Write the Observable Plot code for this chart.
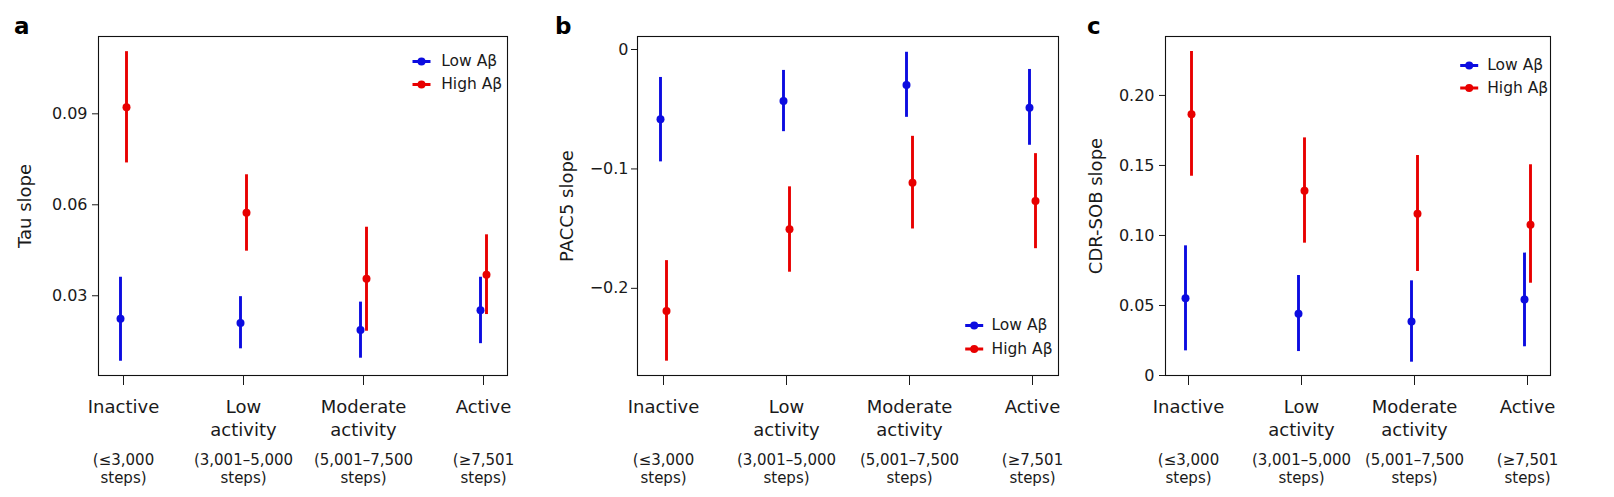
<!DOCTYPE html>
<html><head><meta charset="utf-8">
<script src="https://cdn.jsdelivr.net/npm/d3@7"></script>
<script src="https://cdn.jsdelivr.net/npm/@observablehq/plot@0.6"></script>
<style>
body{margin:0;background:#fff;font-family:"DejaVu Sans",sans-serif;color:#1a1a1a;}
#wrap{position:relative;width:1614px;height:497px;overflow:hidden;}
.panel{position:absolute;top:0;}
.tag{position:absolute;font-weight:bold;font-size:23px;line-height:23px;color:#000;font-family:"DejaVu Sans",sans-serif;}
</style></head><body><div id="wrap"></div>
<script>
const categories = ["Inactive","Low activity","Moderate activity","Active"];
const categoryLabels = ["Inactive","Low\nactivity","Moderate\nactivity","Active"];
const stepLabels = ["(≤3,000\nsteps)","(3,001–5,000\nsteps)","(5,001–7,500\nsteps)","(≥7,501\nsteps)"];
const groups = ["Low Aβ","High Aβ"];
const groupColors = ["#0c0ce0","#e80000"];
// each entry: [estimate, lower CI, upper CI]
const tauLow  = [[0.0224,0.0084,0.0361],[0.0210,0.0125,0.0297],[0.0187,0.0094,0.0279],[0.0252,0.0142,0.0361]];
const tauHigh = [[0.0922,0.0738,0.1105],[0.0574,0.0447,0.0699],[0.0356,0.0183,0.0526],[0.0369,0.0238,0.0501]];
const paccLow  = [[-0.0585,-0.0941,-0.0234],[-0.0432,-0.0688,-0.0175],[-0.0298,-0.0568,-0.0023],[-0.0488,-0.0802,-0.0167]];
const paccHigh = [[-0.2190,-0.2610,-0.1768],[-0.1506,-0.1865,-0.1150],[-0.1116,-0.1503,-0.0727],[-0.1269,-0.1668,-0.0872]];
const cdrLow  = [[0.0552,0.0176,0.0926],[0.0441,0.0171,0.0714],[0.0386,0.0095,0.0676],[0.0543,0.0205,0.0874]];
const cdrHigh = [[0.1866,0.1423,0.2314],[0.1319,0.0945,0.1697],[0.1155,0.0743,0.1571],[0.1076,0.0659,0.1505]];
const tauTicks = [0.03,0.06,0.09];
const paccTicks = [0,-0.1,-0.2];
const cdrTicks = [0,0.05,0.10,0.15,0.20];

const wrap = document.getElementById("wrap");
const FONT = '"DejaVu Sans", sans-serif';
const lineSymbol = {draw(ctx){ ctx.moveTo(-9,0); ctx.lineTo(9,0); }};

function rows(arr){ return arr.map((d,i)=>({cat:categories[i], est:d[0], lo:d[1], hi:d[2]})); }

function legendMarks(lg){
  const m = [];
  groups.forEach((g,i)=>{
    const dy = lg.dy + i*lg.step;
    m.push(Plot.dot([g],{frameAnchor:"top-left", dx:lg.mx, dy, symbol:lineSymbol, stroke:groupColors[i], strokeWidth:3, fill:"none"}));
    m.push(Plot.dot([g],{frameAnchor:"top-left", dx:lg.mx, dy, r:4, fill:groupColors[i], stroke:"none"}));
    m.push(Plot.text([g],{text:d=>d, frameAnchor:"top-left", dx:lg.tx, dy, textAnchor:"start", lineAnchor:"middle", fontSize:15.5, fill:"#1a1a1a"}));
  });
  return m;
}

function panel(o){
  const marks = [];
  [o.low, o.high].forEach((arr,g)=>{
    const data = rows(arr);
    const dx = g===0 ? -3 : 3;
    marks.push(Plot.ruleX(data,{x:"cat", y1:"lo", y2:"hi", stroke:groupColors[g], strokeWidth:2.9, dx}));
    marks.push(Plot.dot(data,{x:"cat", y:"est", r:4, fill:groupColors[g], stroke:"none", dx}));
  });
  const p = Plot.plot({
    width:o.width, height:497,
    marginLeft:o.ml, marginRight:o.mr, marginTop:36, marginBottom:122,
    style:{fontFamily:FONT, fontSize:"16px", color:"#1a1a1a", background:"transparent", overflow:"visible"},
    x:{type:"point", domain:categories, padding:0.2},
    y:{domain:o.yDomain},
    marks:[
      Plot.frame({stroke:"#111", strokeWidth:1.1}),
      Plot.axisY({ticks:o.ticks, tickFormat:o.fmt, tickSize:6, tickPadding:o.tp, fontSize:16, label:null}),
      Plot.axisX({tickSize:10, tickPadding:10, tickFormat:d=>categoryLabels[categories.indexOf(d)], fontSize:18, lineHeight:1.33, label:null}),
      Plot.axisX({tickSize:0, tickPadding:76, tickFormat:d=>stepLabels[categories.indexOf(d)], fontSize:15, lineHeight:1.22, label:null}),
      Plot.text([o.yLabel],{text:d=>d, frameAnchor:"left", rotate:-90, dx:o.lx, textAnchor:"middle", lineAnchor:"middle", fontSize:18, fill:"#1a1a1a"}),
      ...marks,
      ...legendMarks(o.legend)
    ]
  });
  p.classList.add("panel");
  p.style.left = o.left + "px";
  wrap.appendChild(p);
}

function tag(t, left, top){
  const d = document.createElement("div");
  d.className = "tag"; d.textContent = t;
  d.style.left = left + "px"; d.style.top = top + "px";
  wrap.appendChild(d);
}

panel({low:tauLow, high:tauHigh, yLabel:"Tau slope", yDomain:[0.0037,0.1155], ticks:tauTicks,
  fmt:d3.format(".2f"), left:0, width:530, ml:98, mr:23, tp:5, lx:-73,
  legend:{mx:323, tx:342.7, dy:25, step:23}});
panel({low:paccLow, high:paccHigh, yLabel:"PACC5 slope", yDomain:[-0.273,0.0109], ticks:paccTicks,
  fmt:d=>d===0?"0":"−"+Math.abs(d).toFixed(1), left:530, width:534, ml:107, mr:6, tp:3, lx:-70,
  legend:{mx:336.7, tx:354, dy:289, step:23.5}});
panel({low:cdrLow, high:cdrHigh, yLabel:"CDR-SOB slope", yDomain:[0,0.2421], ticks:cdrTicks,
  fmt:d=>d===0?"0":d.toFixed(2), left:1064, width:550, ml:101, mr:64, tp:5, lx:-69,
  legend:{mx:303.7, tx:321.7, dy:29, step:22.5}});

tag("a", 14, 15);
tag("b", 555, 15);
tag("c", 1087, 15);
</script></body></html>
